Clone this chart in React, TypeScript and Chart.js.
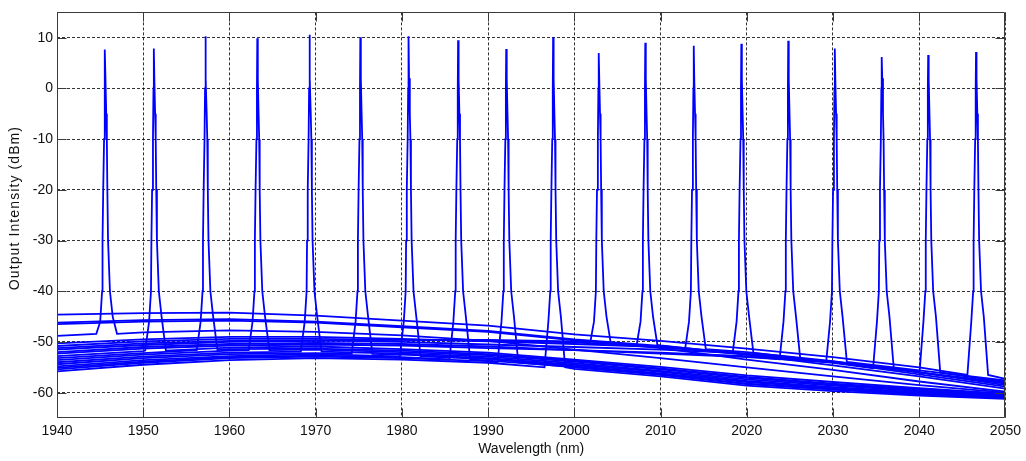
import React, { useEffect, useRef } from "react";
import { Chart, registerables } from "chart.js";

Chart.register(...registerables);

// ---- Data ----
const xTicks = [1940, 1950, 1960, 1970, 1980, 1990, 2000, 2010, 2020, 2030, 2040, 2050];
const yTicks = [-60, -50, -40, -30, -20, -10, 0, 10];
const xTitle = "Wavelength (nm)";
const yTitle = "Output Intensity (dBm)";

// wavelengths (nm) at which the ASE baseline of each spectrum was read
const baselineX = [1940, 1950, 1960, 1970, 1980, 1990, 2000, 2010, 2020, 2030, 2040, 2050];

// lasing peak wavelength (nm) of each spectrum
const peakCenters = [
  1945.56, 1951.23, 1957.21, 1963.23, 1969.28, 1975.18, 1980.77, 1986.52, 1992.1, 1997.54,
  2002.83, 2008.23, 2013.85, 2019.37, 2024.81, 2030.21, 2035.65, 2041.04, 2046.59,
];
// peak power (dBm)
const peakTops = [7.7, 7.9, 10.3, 9.9, 10.6, 10.1, 10.3, 9.5, 7.8, 10.1, 7.0, 9.0, 8.4, 8.8, 9.4, 7.9, 6.2, 6.6, 7.2];
// level (dBm) at which each peak's skirt meets its own baseline
const peakFeet = [
  -48.4, -51.7, -51.6, -51.6, -51.9, -52.35, -52.85, -53.45, -54.05, -55.0,
  -50.3, -50.6, -51.4, -52.15, -53.4, -53.95, -55.2, -56.0, -56.5,
];

// ASE baselines (dBm) at baselineX, one row per spectrum (same order as peaks)
const baselines = [
  [-48.8, -48.1, -47.7, -48.0, -48.7, -49.8, -51.5, -53.2, -55.0, -56.8, -58.5, -60.0],
  [-52.8, -51.8, -51.1, -50.9, -51.4, -52.1, -53.5, -54.9, -56.6, -57.9, -59.1, -60.2],
  [-53.2, -52.2, -51.4, -51.3, -51.7, -52.4, -53.7, -55.2, -56.9, -58.2, -59.3, -60.3],
  [-53.6, -52.5, -51.7, -51.5, -52.0, -52.6, -53.9, -55.4, -57.1, -58.4, -59.5, -60.4],
  [-54.0, -52.9, -52.1, -51.9, -52.3, -52.9, -54.2, -55.7, -57.4, -58.6, -59.7, -60.6],
  [-54.4, -53.2, -52.4, -52.2, -52.5, -53.2, -54.5, -55.9, -57.7, -58.9, -59.9, -60.7],
  [-54.8, -53.6, -52.8, -52.4, -52.8, -53.4, -54.7, -56.2, -57.9, -59.1, -60.1, -60.9],
  [-55.1, -53.9, -53.0, -52.7, -53.0, -53.7, -54.9, -56.4, -58.2, -59.3, -60.3, -61.0],
  [-55.4, -54.1, -53.2, -52.9, -53.2, -53.8, -55.0, -56.5, -58.3, -59.4, -60.4, -61.0],
  [-55.8, -54.5, -53.6, -53.2, -53.5, -54.1, -55.3, -56.8, -58.6, -59.7, -60.6, -61.2],
  [-51.5, -50.6, -50.0, -49.8, -49.6, -49.6, -49.9, -51.2, -53.5, -55.5, -57.8, -59.8],
  [-50.8, -49.9, -49.4, -49.4, -49.6, -49.8, -50.1, -50.7, -52.5, -54.6, -56.8, -59.2],
  [-50.3, -49.5, -49.0, -49.0, -49.4, -49.9, -50.4, -51.0, -52.0, -54.0, -56.4, -58.8],
  [-51.2, -50.3, -49.8, -49.7, -50.0, -50.5, -51.0, -51.5, -52.2, -53.8, -56.0, -58.5],
  [-52.3, -51.3, -50.7, -50.5, -50.7, -51.2, -51.6, -52.1, -52.8, -54.0, -56.0, -58.2],
  [-52.0, -51.0, -50.4, -50.2, -50.4, -50.9, -51.6, -52.3, -53.0, -53.9, -55.6, -57.6],
  [-46.5, -46.0, -45.8, -46.2, -47.1, -48.0, -49.7, -51.0, -52.5, -54.1, -56.0, -58.0],
  [-46.2, -45.7, -45.5, -46.0, -46.9, -47.8, -49.5, -50.8, -52.3, -53.9, -55.8, -57.9],
  [-44.6, -44.3, -44.2, -44.8, -45.8, -46.8, -48.5, -49.8, -51.3, -53.0, -55.0, -57.3],
];

// digitised shape of a lasing line: offset from centre (nm) and level (dBm)
const peakProfile: Array<[number, number | "top" | "foot"]> = [
  [-1.0, "foot"],
  [-0.55, -46],
  [-0.33, -40],
  [-0.28, -30],
  [-0.2, -20],
  [-0.1, -10],
  [-0.04, 0],
  [0, "top"],
  [0.06, 2],
  [0.15, -5],
  [0.22, -10],
  [0.28, -20],
  [0.36, -30],
  [0.58, -40],
  [0.9, -45],
  [1.4, "foot"],
];

function buildSpectrum(i: number) {
  const c = peakCenters[i];
  const first = c + peakProfile[0][0];
  const last = c + peakProfile[peakProfile.length - 1][0];
  const pts: { x: number; y: number }[] = [];
  baselineX.forEach((x, k) => {
    if (x < first) pts.push({ x, y: baselines[i][k] });
  });
  peakProfile.forEach(([dx, lv]) => {
    if (typeof lv === "number" && (lv <= peakFeet[i] + 1 || lv >= peakTops[i] - 0.5)) return;
    const y = lv === "top" ? peakTops[i] : lv === "foot" ? peakFeet[i] : lv;
    pts.push({ x: c + dx, y });
  });
  baselineX.forEach((x, k) => {
    if (x > last) pts.push({ x, y: baselines[i][k] });
  });
  return pts;
}

const FRAME = "#3a3a3a";
const TICK_LEN = 9;
const FONT_FAMILY = "'Liberation Sans', Arial, sans-serif";

const framePlugin = {
  id: "matlabFrame",
  afterDatasetsDraw(chart: any) {
    const { ctx, chartArea: a, scales } = chart;
    const L = Math.round(a.left) + 0.5;
    const R = Math.round(a.right) - 0.5;
    const T = Math.round(a.top) + 0.5;
    const B = Math.round(a.bottom) - 0.5;
    ctx.save();
    ctx.strokeStyle = FRAME;
    ctx.lineWidth = 1;
    ctx.setLineDash([]);
    ctx.beginPath();
    ctx.rect(L, T, R - L, B - T);
    xTicks.forEach((v) => {
      const px = Math.round(scales.x.getPixelForValue(v)) + 0.5;
      ctx.moveTo(px, B);
      ctx.lineTo(px, B - TICK_LEN);
      ctx.moveTo(px, T);
      ctx.lineTo(px, T + TICK_LEN);
    });
    yTicks.forEach((v) => {
      const py = Math.round(scales.y.getPixelForValue(v)) + 0.5;
      ctx.moveTo(L, py);
      ctx.lineTo(L + TICK_LEN, py);
      ctx.moveTo(R, py);
      ctx.lineTo(R - TICK_LEN, py);
    });
    ctx.stroke();

    // y-axis title (MATLAB renders rotated text with wider spacing)
    ctx.translate(15.5, 208);
    ctx.rotate(-Math.PI / 2);
    ctx.font = "14px " + FONT_FAMILY;
    ctx.fillStyle = "#111";
    ctx.textAlign = "center";
    ctx.textBaseline = "middle";
    try {
      (ctx as any).letterSpacing = "1.1px";
    } catch (e) {}
    ctx.fillText(yTitle, 0, 0);
    ctx.restore();
  },
};

export default function App() {
  const ref = useRef<HTMLCanvasElement | null>(null);

  useEffect(() => {
    if (!ref.current) return;
    const font = { family: FONT_FAMILY, size: 14 };
    const datasets = peakCenters.map((_, i) => ({
      label: "spectrum " + (i + 1),
      data: buildSpectrum(i),
      borderColor: "#0000ff",
      backgroundColor: "#0000ff",
      borderWidth: 1.8,
      pointRadius: 0,
      tension: 0,
      fill: false,
    }));
    const chart = new Chart(ref.current, {
      type: "line",
      data: { datasets },
      plugins: [framePlugin],
      options: {
        animation: false,
        responsive: false,
        events: [],
        layout: { padding: { left: 0, right: 18, top: 9, bottom: 0 } },
        plugins: { legend: { display: false }, tooltip: { enabled: false } },
        scales: {
          x: {
            type: "linear",
            min: 1940,
            max: 2050,
            afterBuildTicks: (s: any) => {
              s.ticks = xTicks.map((v) => ({ value: v }));
            },
            afterFit: (s: any) => {
              s.height = 43;
            },
            grid: { color: "rgba(0,0,0,0.8)", lineWidth: 1, drawTicks: false },
            border: { display: false, dash: [3, 2] },
            ticks: {
              color: "#111",
              font,
              padding: 5,
              maxRotation: 0,
              autoSkip: false,
              callback: (v: any) => String(v),
            },
            title: {
              display: true,
              text: xTitle,
              color: "#111",
              font,
              padding: { top: 0, bottom: 3.5 },
            },
          },
          y: {
            type: "linear",
            min: -65,
            max: 15,
            afterBuildTicks: (s: any) => {
              s.ticks = yTicks.map((v) => ({ value: v }));
            },
            afterFit: (s: any) => {
              s.width = 57;
            },
            grid: { color: "rgba(0,0,0,0.8)", lineWidth: 1, drawTicks: false },
            border: { display: false, dash: [3, 2] },
            ticks: { color: "#111", font, padding: 4, autoSkip: false, callback: (v: any) => String(v) },
            title: { display: false, text: yTitle },
          },
        },
      },
    });
    return () => chart.destroy();
  }, []);

  return (
    <div
      style={{
        position: "fixed",
        left: 0,
        top: 0,
        width: 1026,
        height: 461,
        background: "#fff",
      }}
    >
      <canvas ref={ref} width={1026} height={461} />
    </div>
  );
}
